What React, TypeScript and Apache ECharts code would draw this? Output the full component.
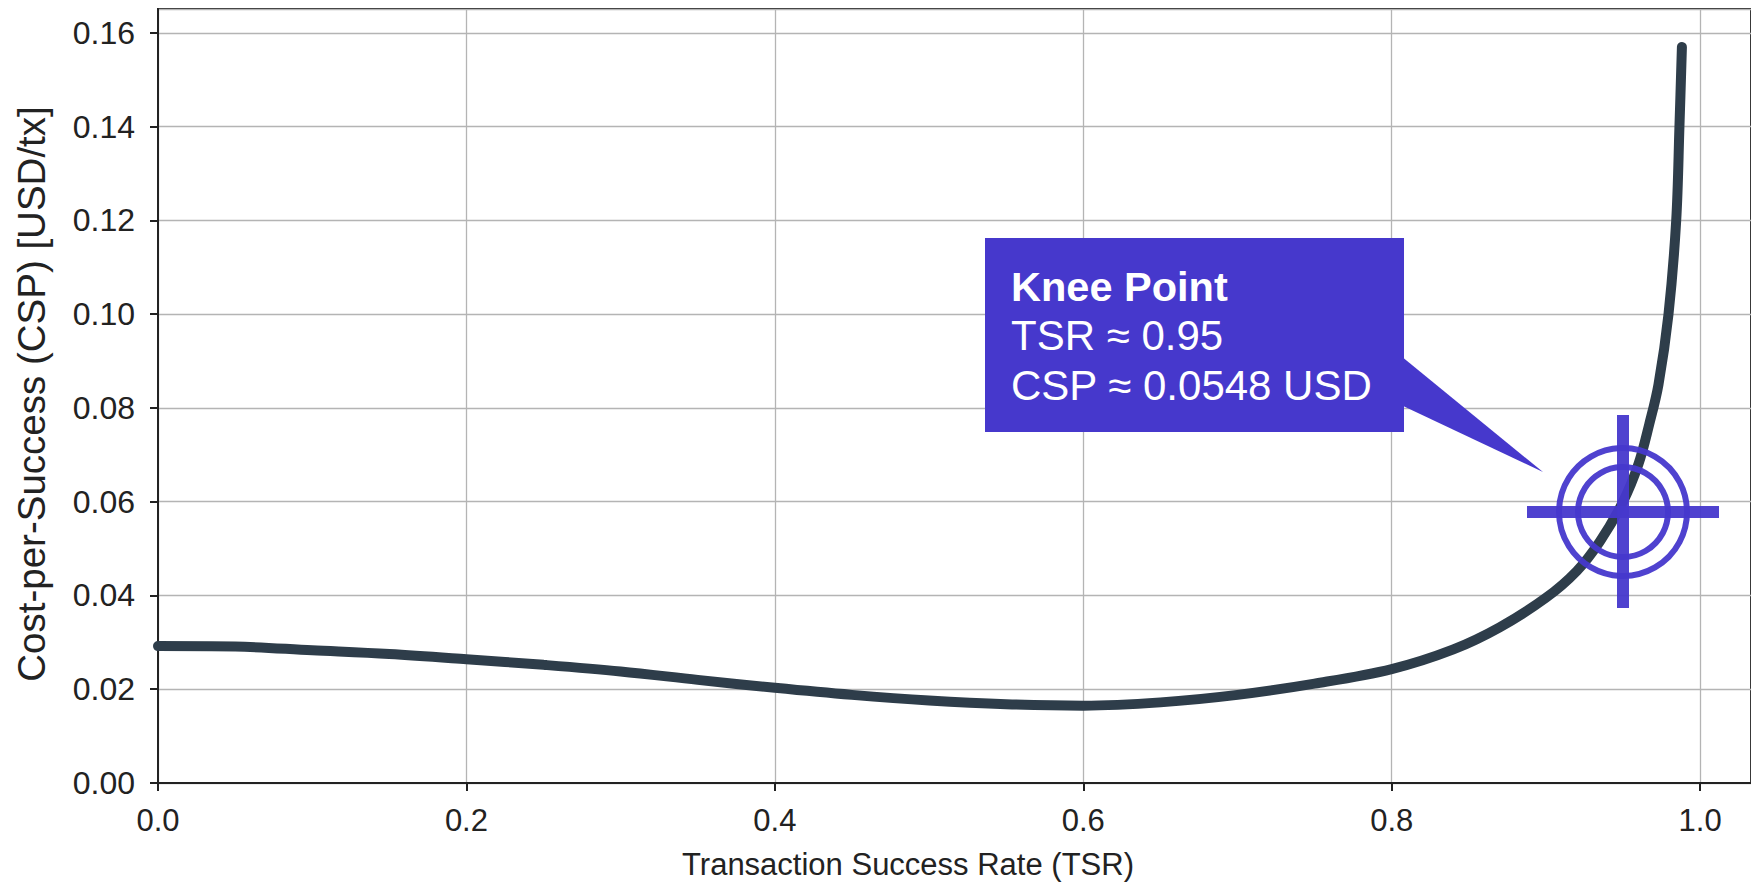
import React, { useEffect, useRef } from "react";
import * as echarts from "echarts";

// Transaction Success Rate (x) and Cost-per-Success (y)
const tsr = [
  0, 0.05, 0.1, 0.15, 0.2, 0.25, 0.3, 0.35, 0.4, 0.45, 0.5, 0.55, 0.6, 0.65, 0.7,
  0.75, 0.8, 0.84, 0.87, 0.9, 0.92, 0.935, 0.95, 0.96, 0.967, 0.973, 0.9795, 0.9845,
  0.9866, 0.9882,
];
const csp = [
  0.0292, 0.0291, 0.0283, 0.0275, 0.0264, 0.0252, 0.0238, 0.022, 0.0203, 0.0188,
  0.0176, 0.0168, 0.0165, 0.0172, 0.0188, 0.0212, 0.0243, 0.0285, 0.0332, 0.0395,
  0.0452, 0.0515, 0.06, 0.068, 0.0765, 0.085, 0.1, 0.12, 0.14, 0.157,
];
const kneePoint = [0.95, 0.0578];
const kneeLabel = ["Knee Point", "TSR ≈ 0.95", "CSP ≈ 0.0548 USD"];
const xAxisTitle = "Transaction Success Rate (TSR)";
const yAxisTitle = "Cost-per-Success (CSP) [USD/tx]";
const xRange = { min: 0, max: 1.033, interval: 0.2 };
const yRange = { min: 0, max: 0.1651, interval: 0.02 };

const FONT = "'Liberation Sans', Arial, sans-serif";
const ACCENT = "#4638cc";
const INK = "#222222";

export default function App() {
  const ref = useRef<HTMLDivElement>(null);
  useEffect(() => {
    const chart = echarts.init(ref.current!, null, { renderer: "svg" });
    const lineData = tsr.map((x, i) => [x, csp[i]]);
    chart.setOption({
      animation: false,
      backgroundColor: "#ffffff",
      grid: {
        left: 158,
        right: -4,
        top: 9,
        bottom: 103,
        show: true,
        borderColor: INK,
        borderWidth: 2,
        backgroundColor: "transparent",
      },
      xAxis: {
        type: "value",
        ...xRange,
        axisLine: { show: true, onZero: false, lineStyle: { color: INK, width: 2 } },
        axisTick: { show: true, length: 8, lineStyle: { color: INK, width: 2 } },
        axisLabel: {
          margin: 22,
          fontSize: 31,
          color: INK,
          fontFamily: FONT,
          showMaxLabel: false,
          formatter: (v: number) => v.toFixed(1),
        },
        splitLine: { show: true, lineStyle: { color: "#b4b4b4", width: 1.3 } },
      },
      yAxis: {
        type: "value",
        ...yRange,
        axisLine: { show: true, onZero: false, lineStyle: { color: INK, width: 2 } },
        axisTick: { show: true, length: 8, lineStyle: { color: INK, width: 2 } },
        axisLabel: {
          margin: 23,
          fontSize: 32,
          color: INK,
          fontFamily: FONT,
          showMaxLabel: false,
          formatter: (v: number) => v.toFixed(2),
        },
        splitLine: { show: true, lineStyle: { color: "#b4b4b4", width: 1.3 } },
      },
      graphic: [
        {
          type: "text",
          x: 908,
          y: 864,
          style: {
            text: xAxisTitle,
            fill: INK,
            fontSize: 31,
            fontFamily: FONT,
            align: "center",
            verticalAlign: "middle",
          },
        },
        {
          type: "text",
          x: 31,
          y: 394,
          rotation: Math.PI / 2,
          style: {
            text: yAxisTitle,
            fill: INK,
            fontSize: 38.5,
            fontFamily: FONT,
            align: "center",
            verticalAlign: "middle",
          },
        },
      ],
      series: [
        {
          type: "line",
          data: lineData,
          smooth: 0.35,
          symbol: "none",
          lineStyle: { color: "#2e3d4a", width: 10, cap: "round", join: "round" },
          z: 3,
        },
        {
          type: "custom",
          data: [kneePoint],
          z: 5,
          renderItem: (_params: any, api: any) => {
            const c = api.coord([api.value(0), api.value(1)]);
            const cx = c[0];
            const cy = c[1];
            return {
              type: "group",
              children: [
                {
                  type: "rect",
                  shape: { x: cx - 638, y: cy - 274, width: 419, height: 194 },
                  style: { fill: ACCENT },
                },
                {
                  type: "polygon",
                  shape: {
                    points: [
                      [cx - 222, cy - 156],
                      [cx - 80, cy - 40],
                      [cx - 222, cy - 107],
                    ],
                  },
                  style: { fill: ACCENT },
                },
                {
                  type: "text",
                  x: cx - 612,
                  y: cy - 226,
                  style: {
                    text: kneeLabel[0],
                    fill: "#ffffff",
                    fontSize: 41.5,
                    fontWeight: "bold",
                    fontFamily: FONT,
                    align: "left",
                    verticalAlign: "middle",
                  },
                },
                {
                  type: "text",
                  x: cx - 612,
                  y: cy - 177,
                  style: {
                    text: kneeLabel[1],
                    fill: "#ffffff",
                    fontSize: 42,
                    fontFamily: FONT,
                    align: "left",
                    verticalAlign: "middle",
                  },
                },
                {
                  type: "text",
                  x: cx - 612,
                  y: cy - 127,
                  style: {
                    text: kneeLabel[2],
                    fill: "#ffffff",
                    fontSize: 42,
                    fontFamily: FONT,
                    align: "left",
                    verticalAlign: "middle",
                  },
                },
                {
                  type: "circle",
                  shape: { cx, cy, r: 64 },
                  style: { fill: "none", stroke: ACCENT, lineWidth: 6, opacity: 0.95 },
                },
                {
                  type: "circle",
                  shape: { cx, cy, r: 45 },
                  style: { fill: "none", stroke: ACCENT, lineWidth: 6, opacity: 0.95 },
                },
                {
                  type: "rect",
                  shape: { x: cx - 96, y: cy - 6, width: 192, height: 12 },
                  style: { fill: ACCENT, opacity: 0.95 },
                },
                {
                  type: "rect",
                  shape: { x: cx - 6, y: cy - 97, width: 12, height: 193 },
                  style: { fill: ACCENT, opacity: 0.95 },
                },
              ],
            };
          },
        },
      ],
    });
    return () => chart.dispose();
  }, []);
  return (
    <div
      ref={ref}
      style={{ position: "fixed", left: 0, top: 0, width: 1751, height: 886, background: "#fff" }}
    />
  );
}
